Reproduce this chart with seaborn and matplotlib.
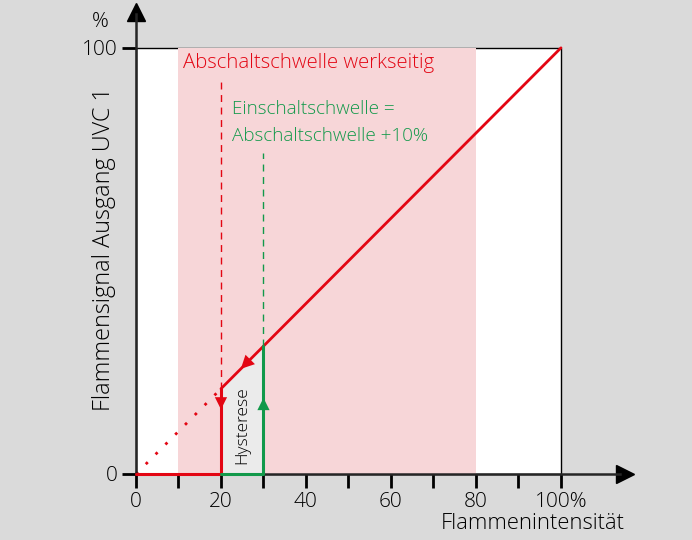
import numpy as np
import pandas as pd
import matplotlib
matplotlib.use("Agg")
import matplotlib.pyplot as plt
import seaborn as sns
from matplotlib.patches import Rectangle, Polygon

# Werte aus dem Bild
abschalt = 20          # Abschaltschwelle in %
einschalt = 30         # Einschaltschwelle in %
band = (10, 80)        # Bereich Abschaltschwelle werkseitig
x_ticks = [0, 10, 20, 30, 40, 50, 60, 70, 80, 90, 100]
x_labels = ["0", "", "20", "", "40", "", "60", "", "80", "", "100%"]
y_ticks = [0, 100]
y_labels = ["0", "100"]

kennlinie_x = [abschalt, 100]
kennlinie_y = [abschalt, 100]
aus_x = [0, abschalt, abschalt]
aus_y = [0, 0, abschalt]
ein_x = [abschalt, einschalt, einschalt]
ein_y = [0, 0, einschalt]
punkt_x = [0, abschalt]
punkt_y = [0, abschalt]

rot = "#e30613"
gruen = "#12994a"
rosa = "#f7d6d8"
grau = "#dadada"

sns.set_style("white")
plt.rcParams["font.family"] = ["Open Sans", "DejaVu Sans"]
plt.rcParams["font.weight"] = "light"
plt.rcParams["text.color"] = "black"
plt.rcParams["xtick.labelcolor"] = "black"
plt.rcParams["ytick.labelcolor"] = "black"

fig = plt.figure(figsize=(6.92, 5.40), dpi=100, facecolor=grau)
ax = fig.add_axes([0.1658, 0.0828, 0.7677, 0.9154])
ax.set_facecolor("none")
ax.set_xlim(-5, 120)
ax.set_ylim(-5, 111)

# Hintergrund
ax.add_patch(Rectangle((0, 0), 100, 100, facecolor="white", edgecolor="black", lw=1, zorder=0))
ax.add_patch(Rectangle((band[0], 0), band[1] - band[0], 100, facecolor=rosa, edgecolor="none", zorder=0.5))
ax.add_patch(Polygon([(abschalt, 0), (einschalt, 0), (einschalt, einschalt), (abschalt, abschalt)],
                     closed=True, facecolor="#ebebeb", edgecolor="none", zorder=0.6))

# Kennlinien
kw = dict(ax=ax, sort=False, estimator=None)
sns.lineplot(x=punkt_x, y=punkt_y, color=rot, lw=2, linestyle=(0, (1, 4)), **kw)
sns.lineplot(x=kennlinie_x, y=kennlinie_y, color=rot, lw=2, **kw)
sns.lineplot(x=aus_x, y=aus_y, color=rot, lw=2.2, zorder=4, **kw)
sns.lineplot(x=ein_x, y=ein_y, color=gruen, lw=2.2, zorder=4, **kw)

# gestrichelte Schwellen
ax.plot([abschalt, abschalt], [abschalt, 92.7], color=rot, lw=1, linestyle=(0, (5, 4)))
ax.plot([einschalt, einschalt], [einschalt, 75.4], color=gruen, lw=1, linestyle=(0, (5, 4)))

# Pfeilspitzen
pf = dict(arrowstyle="-|>", lw=0, mutation_scale=22)
ax.annotate("", xy=(abschalt, 14.5), xytext=(abschalt, 19), arrowprops=dict(pf, color=rot), zorder=5)
ax.annotate("", xy=(einschalt, 18.5), xytext=(einschalt, 14), arrowprops=dict(pf, color=gruen), zorder=5)
ax.annotate("", xy=(24.2, 24.2), xytext=(27.4, 27.4), arrowprops=dict(pf, color=rot, mutation_scale=24), zorder=5)

# Achsen
for s in ["top", "right"]:
    ax.spines[s].set_visible(False)
ax.spines["bottom"].set_position(("data", 0))
ax.spines["left"].set_position(("data", 0))
ax.spines["bottom"].set_bounds(0, 114)
ax.spines["left"].set_bounds(0, 108)
ax.spines["bottom"].set_linewidth(1.8)
ax.spines["left"].set_linewidth(1.8)
ax.spines["bottom"].set_zorder(3)
ax.plot(115, 0, marker=">", color="black", ms=13, clip_on=False)
ax.plot(0, 108.5, marker="^", color="black", ms=13, clip_on=False)

ax.set_xticks(x_ticks)
ax.set_xticklabels(x_labels)
ax.set_yticks(y_ticks)
ax.set_yticklabels(y_labels)
ax.tick_params(axis="both", direction="out", length=10, width=2, labelsize=15, color="black", pad=3)
ax.tick_params(axis="x", bottom=True)
ax.tick_params(axis="y", left=True)

# Texte
ax.text(-8.5, 106, "%", fontsize=15, ha="center", va="center")
ax.text(-7.6, 52.8, "Flammensignal Ausgang UVC 1", fontsize=16.8, rotation=90, ha="center", va="center")
ax.text(93.4, -11.7, "Flammenintensität", fontsize=15.8, ha="center", va="center")
ax.text(11, 96.4, "Abschaltschwelle werkseitig", fontsize=14.7, color=rot, ha="left", va="center")
ax.text(22.6, 85.6, "Einschaltschwelle =", fontsize=13.6, color=gruen, ha="left", va="center")
ax.text(22.6, 79.3, "Abschaltschwelle +10%", fontsize=13.6, color=gruen, ha="left", va="center")
ax.text(25, 11.5, "Hysterese", fontsize=12.5, rotation=90, ha="center", va="center")

fig.savefig("out.png", dpi=100, facecolor=grau)
